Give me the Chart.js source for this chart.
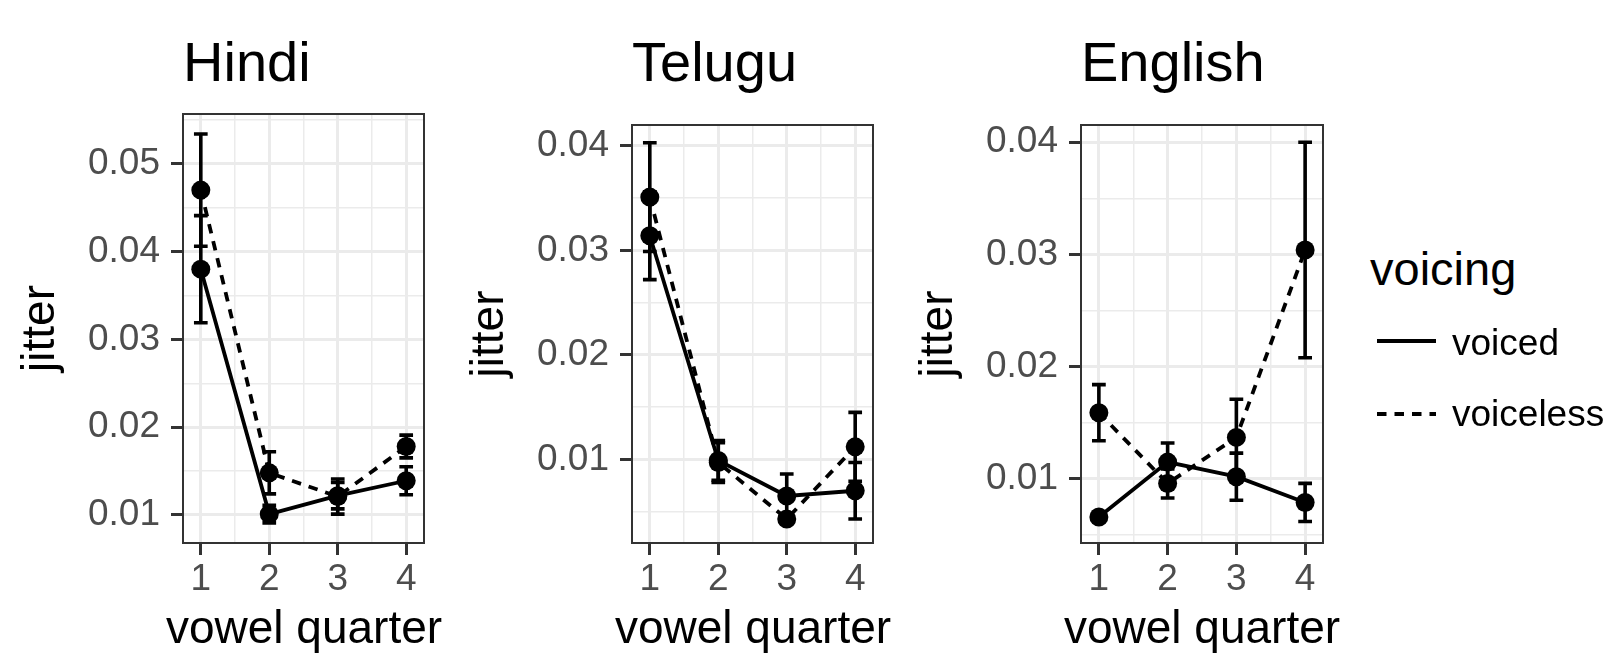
<!DOCTYPE html>
<html>
<head>
<meta charset="utf-8">
<title>jitter by vowel quarter</title>
<script src="https://cdn.jsdelivr.net/npm/chart.js@4.4.1/dist/chart.umd.min.js"></script>
<style>
  body {
    margin: 0;
    background: #ffffff;
    width: 1604px;
    height: 655px;
    position: relative;
    overflow: hidden;
    font-family: "Liberation Sans", Arial, sans-serif;
  }
  canvas { position: absolute; top: 0; }
  .legend-title, .legend-label, .x-title {
    position: absolute;
    color: #000000;
    white-space: nowrap;
  }
  .legend-title { font-size: 47px; line-height: 47px; left: 1370px; top: 245px; }
  .legend-label { font-size: 37px; line-height: 37px; left: 1452px; }
  .x-title { font-size: 46px; line-height: 46px; top: 604px; width: 400px; text-align: center; }
  #legend-keys { position: absolute; left: 0; top: 0; }
</style>
</head>
<body>

<canvas id="hindiChart" width="444" height="655" style="left:0px"></canvas>
<canvas id="teluguChart" width="444" height="655" style="left:449px"></canvas>
<canvas id="englishChart" width="445" height="655" style="left:898px"></canvas>

<div class="x-title" style="left:104px">vowel quarter</div>
<div class="x-title" style="left:553px">vowel quarter</div>
<div class="x-title" style="left:1002px">vowel quarter</div>

<div class="legend-title">voicing</div>
<svg id="legend-keys" width="1604" height="655">
  <line x1="1377" y1="341" x2="1436" y2="341" stroke="#000" stroke-width="4"/>
  <line x1="1377" y1="414" x2="1436" y2="414" stroke="#000" stroke-width="4" stroke-dasharray="9.5 8"/>
</svg>
<div class="legend-label" style="top:324px">voiced</div>
<div class="legend-label" style="top:395px">voiceless</div>

<script>
// x categories
const quarters = [1, 2, 3, 4];

// Hindi: mean jitter and standard error
const hindiVoiced = [0.0380, 0.0101, 0.0122, 0.0139];
const hindiVoicedSe = [0.0061, 0.0010, 0.0015, 0.0016];
const hindiVoiceless = [0.0470, 0.0148, 0.0121, 0.0178];
const hindiVoicelessSe = [0.0064, 0.0024, 0.0020, 0.0013];

// Telugu
const teluguVoiced = [0.0314, 0.0099, 0.0065, 0.0070];
const teluguVoicedSe = [0.0042, 0.0019, 0.0021, 0.0027];
const teluguVoiceless = [0.0351, 0.0097, 0.0043, 0.0112];
const teluguVoicelessSe = [0.0052, 0.0019, 0.0004, 0.0033];

// English
const englishVoiced = [0.0066, 0.0115, 0.0102, 0.0079];
const englishVoicedSe = [0.0004, 0.0017, 0.0021, 0.0017];
const englishVoiceless = [0.0159, 0.0096, 0.0137, 0.0304];
const englishVoicelessSe = [0.0025, 0.0013, 0.0034, 0.0096];

// tick labels
const xTickValues = [1, 2, 3, 4];
const hindiYTicks = [0.01, 0.02, 0.03, 0.04, 0.05];
const teluguYTicks = [0.01, 0.02, 0.03, 0.04];
const englishYTicks = [0.01, 0.02, 0.03, 0.04];

Chart.defaults.font.family = '"Liberation Sans", Arial, sans-serif';

const CAP_HALF = 0.1;      // half width of error bar caps, in x units
const Y_AXIS_WIDTH = 183;
const X_AXIS_HEIGHT = 112;

// ggplot style minor breaks: midpoints between majors (+ one on each side), kept inside the range
function withMinor(majors, min, max) {
    const step = majors[1] - majors[0];
    const all = [];
    for (let i = -1; i < majors.length; i++) {
        const base = i < 0 ? majors[0] - step : majors[i];
        if (i >= 0) all.push(base);
        all.push(base + step / 2);
    }
    return all.filter(v => v >= min && v <= max).sort((a, b) => a - b);
}

function isMajor(value, majors) {
    return majors.some(m => Math.abs(m - value) < 1e-9);
}

function linePoints(means) {
    return quarters.map((q, i) => ({ x: q, y: means[i] }));
}

// Error bars as line segments separated by gaps
function errorBarPoints(means, ses) {
    const pts = [];
    quarters.forEach((q, i) => {
        const lo = means[i] - ses[i];
        const hi = means[i] + ses[i];
        pts.push({ x: q - CAP_HALF, y: hi }, { x: q + CAP_HALF, y: hi }, { x: q, y: null });
        pts.push({ x: q, y: hi }, { x: q, y: lo }, { x: q, y: null });
        pts.push({ x: q - CAP_HALF, y: lo }, { x: q + CAP_HALF, y: lo }, { x: q, y: null });
    });
    return pts;
}

// panel border drawn on top of the data, like theme_bw
const panelBorder = {
    id: 'panelBorder',
    afterDatasetsDraw(chart) {
        const { ctx, chartArea: a } = chart;
        ctx.save();
        ctx.strokeStyle = '#333333';
        ctx.lineWidth = 2;
        ctx.strokeRect(a.left, a.top, a.right - a.left, a.bottom - a.top);
        ctx.restore();
    }
};

function createPanel(canvasId, title, voiced, voicedSe, voiceless, voicelessSe, yTicks, yMin, yMax, titleGap) {
    const canvas = document.getElementById(canvasId);
    if (!canvas) return;

    const xMin = 0.74, xMax = 4.26;
    const xGrid = withMinor(xTickValues, xMin, xMax);
    const yGrid = withMinor(yTicks, yMin, yMax);

    const lineStyle = {
        borderColor: '#000000',
        backgroundColor: '#000000',
        borderWidth: 3.8,
        pointRadius: 9.5,
        pointBorderWidth: 0,
        pointBackgroundColor: '#000000',
        tension: 0
    };
    const barStyle = {
        borderColor: '#000000',
        borderWidth: 3.6,
        pointRadius: 0,
        spanGaps: false,
        tension: 0
    };

    new Chart(canvas, {
        type: 'line',
        data: {
            datasets: [
                Object.assign({ label: 'voiced', data: linePoints(voiced) }, lineStyle),
                Object.assign({ label: 'voiceless', data: linePoints(voiceless), borderDash: [9.5, 8] }, lineStyle),
                Object.assign({ label: 'voiced se', data: errorBarPoints(voiced, voicedSe) }, barStyle),
                Object.assign({ label: 'voiceless se', data: errorBarPoints(voiceless, voicelessSe) }, barStyle)
            ]
        },
        options: {
            responsive: false,
            animation: false,
            events: [],
            layout: { padding: { left: 0, right: 20, top: 0, bottom: 0 } },
            plugins: {
                legend: { display: false },
                tooltip: { enabled: false },
                title: {
                    display: true,
                    text: title,
                    align: 'start',
                    fullSize: false,
                    color: '#000000',
                    font: { size: 56, weight: 'normal', lineHeight: 1 },
                    padding: { top: 37.6, bottom: titleGap }
                }
            },
            scales: {
                x: {
                    type: 'linear',
                    min: xMin,
                    max: xMax,
                    afterBuildTicks: s => { s.ticks = xGrid.map(v => ({ value: v })); },
                    afterFit: s => { s.height = X_AXIS_HEIGHT; },
                    ticks: {
                        autoSkip: false,
                        maxRotation: 0,
                        padding: 6.5,
                        color: '#4D4D4D',
                        font: { size: 37, lineHeight: 1 },
                        callback: v => isMajor(v, xTickValues) ? String(v) : ''
                    },
                    grid: {
                        color: '#EBEBEB',
                        lineWidth: ctx => isMajor(ctx.tick.value, xTickValues) ? 3 : 1.5,
                        tickColor: ctx => isMajor(ctx.tick.value, xTickValues) ? '#333333' : 'rgba(0,0,0,0)',
                        tickWidth: 3,
                        tickLength: 12
                    },
                    border: { display: false }
                },
                y: {
                    type: 'linear',
                    min: yMin,
                    max: yMax,
                    afterBuildTicks: s => { s.ticks = yGrid.map(v => ({ value: v })); },
                    afterFit: s => { s.width = Y_AXIS_WIDTH; },
                    ticks: {
                        autoSkip: false,
                        padding: 11,
                        color: '#4D4D4D',
                        font: { size: 37, lineHeight: 1 },
                        callback: v => isMajor(v, yTicks) ? v.toFixed(2) : ''
                    },
                    grid: {
                        color: '#EBEBEB',
                        lineWidth: ctx => isMajor(ctx.tick.value, yTicks) ? 3 : 1.5,
                        tickColor: ctx => isMajor(ctx.tick.value, yTicks) ? '#333333' : 'rgba(0,0,0,0)',
                        tickWidth: 3,
                        tickLength: 12
                    },
                    border: { display: false },
                    title: {
                        display: true,
                        text: 'jitter',
                        color: '#000000',
                        font: { size: 46, lineHeight: 1 },
                        padding: { top: 18, bottom: 0 }
                    }
                }
            }
        },
        plugins: [panelBorder]
    });
}

createPanel('hindiChart', 'Hindi', hindiVoiced, hindiVoicedSe, hindiVoiceless, hindiVoicelessSe,
    hindiYTicks, 0.00681, 0.05567, 20.4);
createPanel('teluguChart', 'Telugu', teluguVoiced, teluguVoicedSe, teluguVoiceless, teluguVoicelessSe,
    teluguYTicks, 0.0020, 0.0420, 31.4);
createPanel('englishChart', 'English', englishVoiced, englishVoicedSe, englishVoiceless, englishVoicelessSe,
    englishYTicks, 0.00429, 0.04154, 31.4);
</script>
</body>
</html>
